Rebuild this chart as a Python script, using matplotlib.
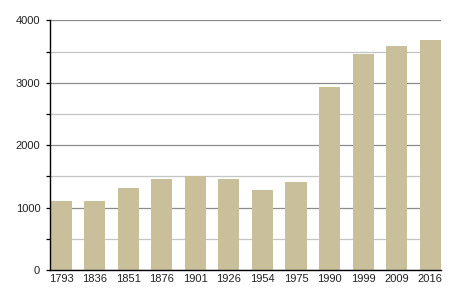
import matplotlib as mpl
mpl.use('Agg')
from matplotlib import pyplot as plt
from matplotlib.ticker import MultipleLocator

years = ['1793', '1836', '1851', '1876', '1901', '1926', '1954', '1975',
         '1990', '1999', '2009', '2016']
values = [1106, 1106, 1314, 1458, 1506, 1458, 1282, 1410,
          2933, 3462, 3590, 3686]

plt.rcParams['font.family'] = ['Liberation Sans', 'DejaVu Sans']

fig = plt.figure(figsize=(4.5, 3), dpi=100)
ax = fig.add_axes([0.111, 0.1, 0.869, 0.832])

x = list(range(len(years)))
ax.bar(x, values, width=0.63, color='#c9c09b', zorder=3)

ax.set_ylim(0, 4000)
ax.set_xlim(-0.33, 11.32)
ax.yaxis.set_major_locator(MultipleLocator(1000))
ax.yaxis.set_minor_locator(MultipleLocator(500))
ax.grid(axis='y', which='major', color='#8c8c8c', linewidth=0.9, zorder=0)
ax.grid(axis='y', which='minor', color='#c4c4c4', linewidth=0.9, zorder=0)

ax.set_xticks(x)
ax.set_xticklabels(years)
ax.tick_params(axis='x', length=0, pad=3, labelsize=8, labelcolor='#222222')
ax.tick_params(axis='y', which='both', length=3, width=0.9, pad=4,
               labelsize=8, color='black', labelcolor='#222222')
ax.tick_params(axis='y', which='minor', labelleft=False)

for s in ['top', 'right']:
    ax.spines[s].set_visible(False)
for s in ['left', 'bottom']:
    ax.spines[s].set_color('black')
    ax.spines[s].set_linewidth(1.0)
    ax.spines[s].set_zorder(4)

plt.savefig('out.png', dpi=100)
